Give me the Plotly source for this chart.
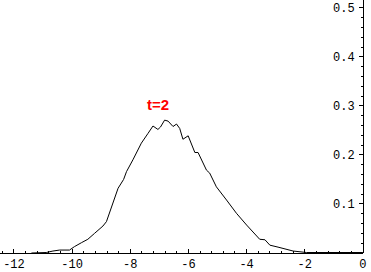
import plotly.graph_objects as go

x_vals = [-11.40, -10.89, -10.66, -10.43, -10.09, -9.92, -9.68, -9.46, -9.23, -8.94,
          -8.82, -8.65, -8.42, -8.23, -8.13, -7.91, -7.62, -7.39, -7.22, -7.05,
          -6.96, -6.82, -6.70, -6.53, -6.41, -6.30, -6.19, -6.01, -5.90, -5.78,
          -5.67, -5.50, -5.38, -5.27, -5.15, -5.04, -4.69, -4.35, -4.00, -3.72,
          -3.55, -3.37, -3.20, -2.92, -2.69, -2.40, -1.94, -1.50, -1.00, -0.60,
          -0.30, 0.00]
y_vals = [0.000, 0.001, 0.004, 0.006, 0.006, 0.013, 0.021, 0.028, 0.040, 0.055,
          0.064, 0.094, 0.132, 0.150, 0.166, 0.190, 0.224, 0.244, 0.259, 0.252,
          0.257, 0.271, 0.269, 0.258, 0.263, 0.254, 0.232, 0.239, 0.224, 0.205,
          0.205, 0.183, 0.169, 0.163, 0.150, 0.135, 0.108, 0.081, 0.057, 0.040,
          0.028, 0.027, 0.016, 0.012, 0.008, 0.004, 0.001, 0.001, 0.001, 0.002,
          0.002, 0.001]

x_ticks = [-12, -10, -8, -6, -4, -2, 0]
y_ticks = [0.1, 0.2, 0.3, 0.4, 0.5]
y_ticktext = ["0.1", "0.2", "0.3", "0.4", "0.5"]
label_text = "t=2"
label_x = -7.05
label_y = 0.302

fig = go.Figure()
fig.add_trace(go.Scatter(x=x_vals, y=y_vals, mode="lines",
                         line=dict(color="black", width=1), hoverinfo="skip"))

fig.add_annotation(x=label_x, y=label_y, text="<b>" + label_text + "</b>", showarrow=False,
                   font=dict(family="Liberation Sans, Arial", size=15, color="#ff0000"))

mono = dict(family="Liberation Mono, Courier New, monospace", size=12, color="black")

fig.update_layout(
    width=371, height=272,
    margin=dict(l=0, r=8, t=0, b=19),
    paper_bgcolor="white", plot_bgcolor="white",
    showlegend=False,
    xaxis=dict(range=[-12.48, 0.002], tickvals=x_ticks, ticktext=[str(v) for v in x_ticks],
               showgrid=False, zeroline=False, showline=True, linecolor="black", linewidth=1,
               ticks="inside", ticklen=4, tickcolor="black", tickwidth=1,
               minor=dict(tickmode="linear", tick0=0, dtick=0.4, ticks="inside",
                          ticklen=2, tickcolor="black", tickwidth=1, showgrid=False),
               tickfont=mono, fixedrange=True, automargin=False),
    yaxis=dict(range=[0, 0.516], side="left", anchor="free", position=1.0,
               tickvals=y_ticks, ticktext=y_ticktext,
               showgrid=False, zeroline=False, showline=True, linecolor="black", linewidth=1,
               ticks="outside", ticklen=4, tickcolor="black", tickwidth=1,
               ticklabelstandoff=2,
               minor=dict(tickmode="linear", tick0=0, dtick=0.02, ticks="outside",
                          ticklen=2, tickcolor="black", tickwidth=1, showgrid=False),
               tickfont=mono, fixedrange=True, automargin=False),
)

fig.write_html("out.html")
